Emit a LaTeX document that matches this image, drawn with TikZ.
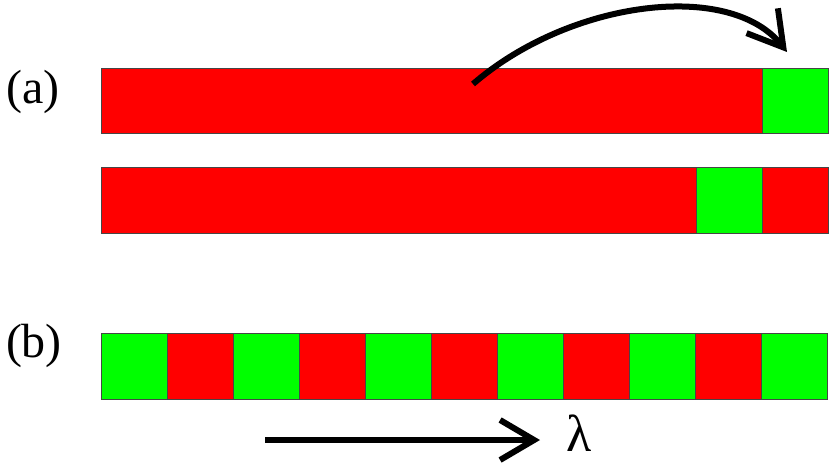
\documentclass[tikz,border=0pt]{standalone}
\usepackage{fontspec}
\setmainfont{Liberation Serif}
\usetikzlibrary{arrows.meta}
\definecolor{bred}{RGB}{255,0,0}
\definecolor{bgreen}{RGB}{0,255,0}
\definecolor{edge}{RGB}{70,70,70}
\tikzset{
  cell/.style={draw=edge, line width=1pt},
  redcell/.style={cell, fill=bred},
  greencell/.style={cell, fill=bgreen},
  bigarrow/.style={line width=6pt, -{Straight Barb[length=34pt,width=40pt]}},
  lbl/.style={font=\fontsize{48}{48}\selectfont, inner sep=0pt}
}
\begin{document}
\begin{tikzpicture}[x=1pt,y=-1pt]
\useasboundingbox (0,0) rectangle (830,463);
% (a) top bar
\path[redcell] (101,68) rectangle (762,133);
\path[greencell] (762,68) rectangle (828,133);
% (a) second bar
\path[redcell] (101,167) rectangle (696,233);
\path[greencell] (696,167) rectangle (762,233);
\path[redcell] (762,167) rectangle (828,233);
% (b) bar
\foreach \i in {0,...,10}{
  \pgfmathtruncatemacro{\p}{mod(\i,2)}
  \ifnum\p=0
    \path[greencell] ({101+66*\i},333) rectangle ({167+66*\i},399);
  \else
    \path[redcell] ({101+66*\i},333) rectangle ({167+66*\i},399);
  \fi
}
% labels
\node[lbl] (la) at (33,92) {(a)};
\node[lbl] (lb) at (34,346) {(b)};
% curved arrow
\coordinate (cs) at (473,84);
\coordinate (ce) at (787,52);
\draw[bigarrow] (cs) .. controls (570,0) and (730,-20) .. (ce);
% lambda arrow
\coordinate (ls) at (265,440);
\node[font=\fontsize{52}{52}\selectfont, inner sep=0pt, anchor=base] (lam) at (579,451) {λ};
\coordinate (le) at (540,440);
\draw[bigarrow] (ls) -- (le);
\end{tikzpicture}
\end{document}
